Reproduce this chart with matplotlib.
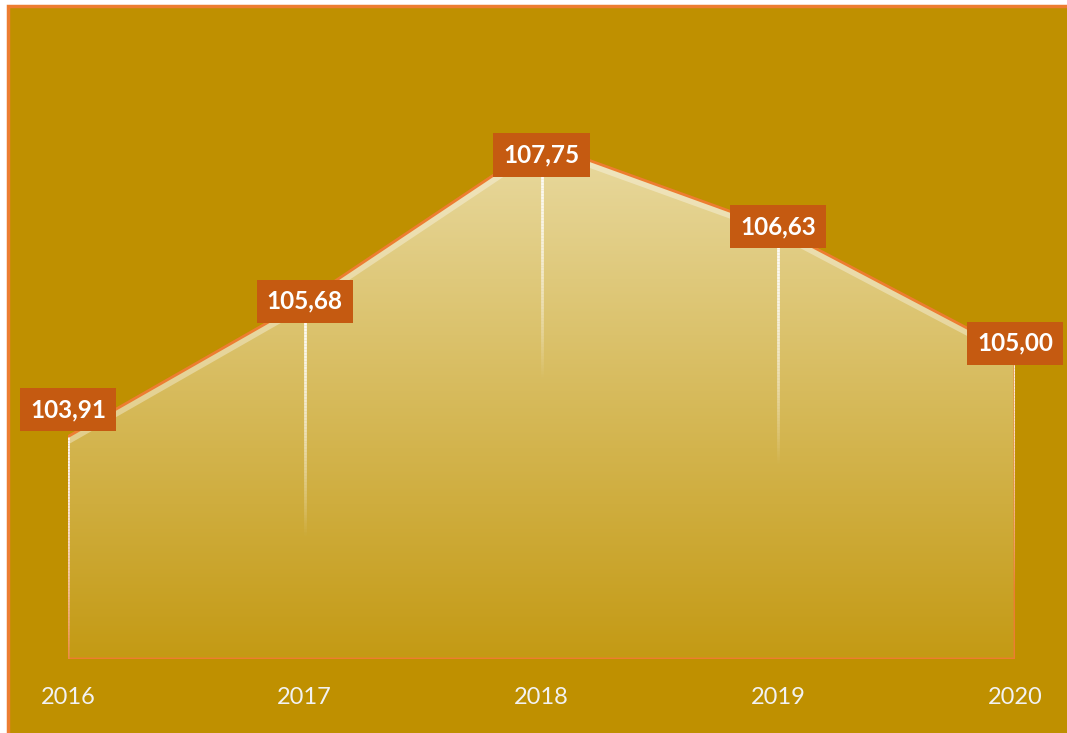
import numpy as np
import matplotlib.pyplot as plt
from matplotlib.patches import Polygon, Rectangle
from matplotlib.collections import LineCollection
from matplotlib.colors import LinearSegmentedColormap

plt.rcParams['font.family'] = ['Lato', 'DejaVu Sans']

# Data
years = ['2016', '2017', '2018', '2019', '2020']
values = [103.91, 105.68, 107.75, 106.63, 105.00]
value_labels = ['103,91', '105,68', '107,75', '106,63', '105,00']

# Style
GOLD = '#BF9000'
ORANGE = '#ED7D31'
BOX = '#C55A11'
label_dy = [27, 0, -12, 2, 10]  # label offsets in pixels
y_min, y_max = 101, 108

fig = plt.figure(figsize=(10.67, 7.33), dpi=100)
fig.patch.set_facecolor('white')
fig.add_artist(Rectangle((8 / 1067, -0.05), 1.1, 1.05 - 6 / 733,
                         transform=fig.transFigure, facecolor=GOLD,
                         edgecolor=ORANGE, lw=2.5, zorder=0))

ax = fig.add_axes([68 / 1067, 74 / 733, 947 / 1067, 535 / 733])
ax.set_facecolor('none')
ax.set_xlim(0, len(years) - 1)
ax.set_ylim(y_min, y_max)
for s in ax.spines.values():
    s.set_visible(False)

x = np.arange(len(years))
verts = [(x[0], y_min)] + list(zip(x, values)) + [(x[-1], y_min)]
poly = Polygon(verts, closed=True, facecolor='none', edgecolor=ORANGE,
               lw=2, zorder=4)
ax.add_patch(poly)

# gradient fill clipped to the area
cmap = LinearSegmentedColormap.from_list('g', ['#C49A14', '#EADCA5'])
grad = np.linspace(1, 0, 256).reshape(-1, 1)
im = ax.imshow(grad, extent=[x[0], x[-1], y_min, y_max], origin='upper',
               aspect='auto', cmap=cmap, zorder=1)
im.set_clip_path(poly)

# light band under the top edge
hl, = ax.plot(x, values, color='white', lw=10, alpha=0.35, zorder=2)
hl.set_clip_path(poly)

# fading drop lines
n = 80
for xi, v in zip(x, values):
    ys = np.linspace(v, v - 3.1, n + 1)
    segs = [[(xi, ys[i]), (xi, ys[i + 1])] for i in range(n)]
    cols = [(1, 1, 1, a) for a in 0.95 * (1 - np.linspace(0, 1, n) ** 1.6)]
    ax.add_collection(LineCollection(segs, colors=cols, lw=2, zorder=5))

# data labels
for xi, v, lab, dy in zip(x, values, value_labels, label_dy):
    ax.annotate(lab, (xi, v), xytext=(0, dy), textcoords='offset pixels',
                ha='center', va='center', fontsize=17.5, fontweight='bold',
                color='white', zorder=6, annotation_clip=False,
                bbox=dict(boxstyle='square,pad=0.42', fc=BOX, ec='none'))

ax.set_xticks(x, years)
ax.set_yticks([])
ax.tick_params(axis='x', length=0, pad=20, labelcolor='#F2F2F2', labelsize=17)

fig.savefig('out.png', dpi=100)
